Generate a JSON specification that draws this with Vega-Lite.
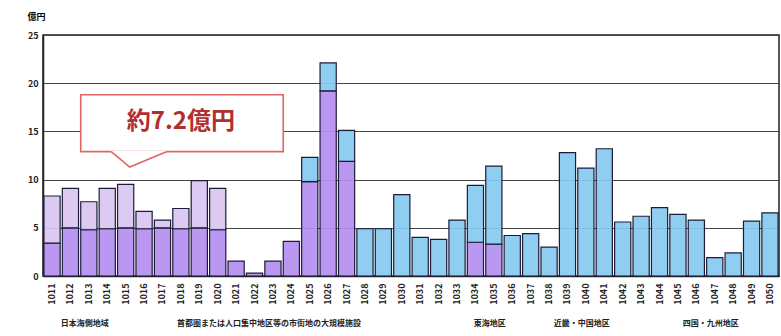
{
  "$schema": "https://vega.github.io/schema/vega-lite/v6.json",
  "width": 736,
  "height": 241,
  "autosize": {"type": "none"},
  "padding": {"left": 43, "top": 35, "right": 2, "bottom": 60},
  "background": "white",
  "config": {
    "font": "Noto Sans CJK JP",
    "view": {"stroke": "#222222", "strokeWidth": 1.5}
  },
  "datasets": {
    "costs": [
      {"code": "1011", "series": "1 本体", "value": 3.4},
      {"code": "1011", "series": "2 附帯", "value": 4.9},
      {"code": "1012", "series": "1 本体", "value": 5.0},
      {"code": "1012", "series": "2 附帯", "value": 4.1},
      {"code": "1013", "series": "1 本体", "value": 4.8},
      {"code": "1013", "series": "2 附帯", "value": 2.9},
      {"code": "1014", "series": "1 本体", "value": 4.9},
      {"code": "1014", "series": "2 附帯", "value": 4.2},
      {"code": "1015", "series": "1 本体", "value": 5.0},
      {"code": "1015", "series": "2 附帯", "value": 4.5},
      {"code": "1016", "series": "1 本体", "value": 4.9},
      {"code": "1016", "series": "2 附帯", "value": 1.8},
      {"code": "1017", "series": "1 本体", "value": 5.0},
      {"code": "1017", "series": "2 附帯", "value": 0.8},
      {"code": "1018", "series": "1 本体", "value": 4.9},
      {"code": "1018", "series": "2 附帯", "value": 2.1},
      {"code": "1019", "series": "1 本体", "value": 5.0},
      {"code": "1019", "series": "2 附帯", "value": 4.9},
      {"code": "1020", "series": "1 本体", "value": 4.8},
      {"code": "1020", "series": "2 附帯", "value": 4.3},
      {"code": "1021", "series": "1 本体", "value": 1.55},
      {"code": "1022", "series": "1 本体", "value": 0.3},
      {"code": "1023", "series": "1 本体", "value": 1.55},
      {"code": "1024", "series": "1 本体", "value": 3.6},
      {"code": "1025", "series": "1 本体", "value": 9.8},
      {"code": "1025", "series": "3 対策", "value": 2.5},
      {"code": "1026", "series": "1 本体", "value": 19.2},
      {"code": "1026", "series": "3 対策", "value": 2.9},
      {"code": "1027", "series": "1 本体", "value": 11.9},
      {"code": "1027", "series": "3 対策", "value": 3.2},
      {"code": "1028", "series": "3 対策", "value": 4.9},
      {"code": "1029", "series": "3 対策", "value": 4.9},
      {"code": "1030", "series": "3 対策", "value": 8.45},
      {"code": "1031", "series": "3 対策", "value": 4.0},
      {"code": "1032", "series": "3 対策", "value": 3.8},
      {"code": "1033", "series": "3 対策", "value": 5.8},
      {"code": "1034", "series": "1 本体", "value": 3.5},
      {"code": "1034", "series": "3 対策", "value": 5.9},
      {"code": "1035", "series": "1 本体", "value": 3.3},
      {"code": "1035", "series": "3 対策", "value": 8.1},
      {"code": "1036", "series": "3 対策", "value": 4.2},
      {"code": "1037", "series": "3 対策", "value": 4.4},
      {"code": "1038", "series": "3 対策", "value": 3.0},
      {"code": "1039", "series": "3 対策", "value": 12.8},
      {"code": "1040", "series": "3 対策", "value": 11.2},
      {"code": "1041", "series": "3 対策", "value": 13.2},
      {"code": "1042", "series": "3 対策", "value": 5.6},
      {"code": "1043", "series": "3 対策", "value": 6.2},
      {"code": "1044", "series": "3 対策", "value": 7.1},
      {"code": "1045", "series": "3 対策", "value": 6.4},
      {"code": "1046", "series": "3 対策", "value": 5.8},
      {"code": "1047", "series": "3 対策", "value": 1.9},
      {"code": "1048", "series": "3 対策", "value": 2.4},
      {"code": "1049", "series": "3 対策", "value": 5.7},
      {"code": "1050", "series": "3 対策", "value": 6.55}
    ],
    "callout": [
      {"from": "1013", "to": "1024", "top": 18.8, "bottom": 12.9}
    ],
    "pointer": [
      {"code": "1014", "edge": 13.0, "tip": 12.9},
      {"code": "1015", "edge": 13.0, "tip": 11.3},
      {"code": "1017", "edge": 13.0, "tip": 12.9}
    ],
    "note": [
      {"code": "1018", "value": 16.0, "label": "約7.2億円"}
    ],
    "groups": [
      {"code": "1013", "label": "日本海側地域"},
      {"code": "1023", "label": "首都圏または人口集中地区等の市街地の大規模施設"},
      {"code": "1035", "label": "東海地区"},
      {"code": "1040", "label": "近畿・中国地区"},
      {"code": "1047", "label": "四国・九州地区"}
    ]
  },
  "layer": [
    {
      "data": {"name": "costs"},
      "mark": {"type": "bar", "stroke": "#1c1c3a", "strokeWidth": 1.2, "fillOpacity": 0.92},
      "encoding": {
        "x": {
          "field": "code",
          "type": "ordinal",
          "title": null,
          "scale": {"paddingInner": 0.12, "paddingOuter": 0.05},
          "axis": {
            "title": null,
            "labelAngle": -90,
            "labelFontSize": 9,
            "labelFontWeight": "bold",
            "labelColor": "#222222",
            "labelPadding": 7,
            "ticks": false,
            "domainColor": "#222222",
            "domainWidth": 1.5
          }
        },
        "y": {
          "aggregate": "sum",
          "field": "value",
          "type": "quantitative",
          "stack": "zero",
          "title": "億円",
          "scale": {"domain": [0, 25], "nice": false},
          "axis": {
            "values": [0, 5, 10, 15, 20, 25],
            "title": "億円",
            "titleAngle": 0,
            "titleAlign": "left",
            "titleBaseline": "bottom",
            "titleX": -16,
            "titleY": -14,
            "titleFontSize": 9,
            "titleFontWeight": "bold",
            "labelFontSize": 9,
            "labelFontWeight": "bold",
            "labelColor": "#222222",
            "labelPadding": 5,
            "ticks": false,
            "domainColor": "#222222",
            "domainWidth": 1.5,
            "gridColor": "#444444",
            "gridWidth": 1.2
          }
        },
        "color": {
          "field": "series",
          "type": "nominal",
          "scale": {
            "domain": ["1 本体", "2 附帯", "3 対策"],
            "range": ["#b48ef0", "#d9c6f2", "#86c9f0"]
          },
          "legend": null
        },
        "order": {"field": "series", "sort": "ascending"}
      }
    },
    {
      "mark": {"type": "rule", "color": "#ee1111", "strokeWidth": 3.5},
      "encoding": {"y": {"datum": 7.2, "title": "億円"}}
    },
    {
      "data": {"name": "callout"},
      "mark": {"type": "rect", "fill": "white", "stroke": "#e06666", "strokeWidth": 1.6},
      "encoding": {
        "x": {"field": "from", "type": "ordinal", "bandPosition": 0, "title": null},
        "x2": {"field": "to", "bandPosition": 0},
        "y": {"field": "top", "type": "quantitative", "title": "億円"},
        "y2": {"field": "bottom"}
      }
    },
    {
      "data": {"name": "pointer"},
      "mark": {"type": "area", "fill": "white"},
      "encoding": {
        "x": {"field": "code", "type": "ordinal", "bandPosition": 0.75, "title": null},
        "y": {"field": "edge", "type": "quantitative", "title": "億円"},
        "y2": {"field": "tip"}
      }
    },
    {
      "data": {"name": "pointer"},
      "mark": {"type": "line", "stroke": "#e06666", "strokeWidth": 1.6},
      "encoding": {
        "x": {"field": "code", "type": "ordinal", "bandPosition": 0.75, "title": null},
        "y": {"field": "tip", "type": "quantitative", "title": "億円"}
      }
    },
    {
      "data": {"name": "note"},
      "mark": {"type": "text", "fontSize": 24, "fontWeight": "bold", "color": "#b03030", "align": "center", "baseline": "middle"},
      "encoding": {
        "x": {"field": "code", "type": "ordinal", "bandPosition": 0.5, "title": null},
        "y": {"field": "value", "type": "quantitative", "title": "億円"},
        "text": {"field": "label"}
      }
    },
    {
      "data": {"name": "groups"},
      "mark": {"type": "text", "fontSize": 8, "fontWeight": "bold", "color": "#222222", "align": "center", "baseline": "middle"},
      "encoding": {
        "x": {"field": "code", "type": "ordinal", "bandPosition": 0.25, "title": null},
        "y": {"datum": -5, "title": "億円"},
        "text": {"field": "label"}
      }
    }
  ]
}
